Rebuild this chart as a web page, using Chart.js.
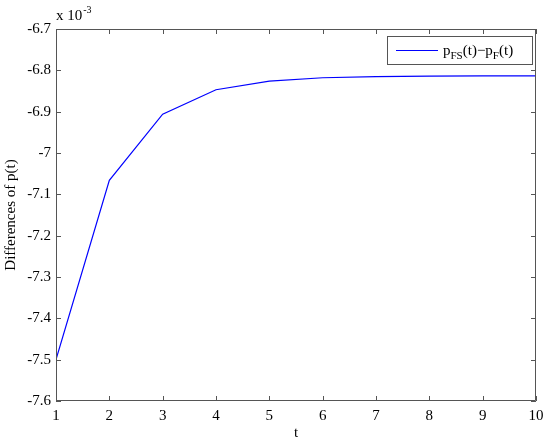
<!DOCTYPE html>
<html>
<head>
<meta charset="utf-8">
<script src="https://cdn.jsdelivr.net/npm/chart.js@4/dist/chart.umd.min.js"></script>
<style>
  html, body { margin: 0; padding: 0; background: #fff; }
  #wrap { width: 550px; height: 444px; }
</style>
</head>
<body>
<div id="wrap"><canvas id="chart" width="550" height="444"></canvas></div>
<script>
// values in units of 1e-3
const tValues = [1, 2, 3, 4, 5, 6, 7, 8, 9, 10];
const diffValues = [-7.5, -7.066, -6.906, -6.847, -6.826, -6.818, -6.815, -6.814, -6.8135, -6.8133];
const yTicks = [-6.7, -6.8, -6.9, -7, -7.1, -7.2, -7.3, -7.4, -7.5, -7.6];
const xTicks = [1, 2, 3, 4, 5, 6, 7, 8, 9, 10];

const axisColor = '#555';
const serif = "'Liberation Serif', 'Times New Roman', serif";

// MATLAB-ish box with inward ticks on all four sides, plus exponent label and legend
const matlabFrame = {
    id: 'matlabFrame',
    afterDraw(chart) {
        const ctx = chart.ctx;
        const a = chart.chartArea;
        const xs = chart.scales.x;
        const ys = chart.scales.y;
        ctx.save();
        ctx.strokeStyle = axisColor;
        ctx.lineWidth = 1;
        ctx.beginPath();
        ctx.rect(a.left + 0.5, a.top + 0.5, a.right - a.left - 1, a.bottom - a.top - 1);
        ctx.stroke();

        const len = 5;
        ctx.beginPath();
        xTicks.forEach(v => {
            const px = Math.round(xs.getPixelForValue(v)) + 0.5;
            ctx.moveTo(px, a.bottom);
            ctx.lineTo(px, a.bottom - len);
            ctx.moveTo(px, a.top);
            ctx.lineTo(px, a.top + len);
        });
        yTicks.forEach(v => {
            const py = Math.round(ys.getPixelForValue(v)) + 0.5;
            ctx.moveTo(a.left, py);
            ctx.lineTo(a.left + len, py);
            ctx.moveTo(a.right, py);
            ctx.lineTo(a.right - len, py);
        });
        ctx.stroke();

        // exponent label
        ctx.fillStyle = '#000';
        ctx.textBaseline = 'alphabetic';
        ctx.textAlign = 'left';
        ctx.font = '15px ' + serif;
        ctx.fillText('x 10', a.left, a.top - 9);
        const w = ctx.measureText('x 10').width;
        ctx.font = '10px ' + serif;
        ctx.fillText('-3', a.left + w + 1, a.top - 16);

        // legend
        const lx = 387, ly = 36, lw = 145, lh = 28;
        ctx.fillStyle = '#fff';
        ctx.fillRect(lx, ly, lw, lh);
        ctx.strokeStyle = axisColor;
        ctx.strokeRect(lx + 0.5, ly + 0.5, lw, lh);
        ctx.strokeStyle = 'rgb(0,0,255)';
        ctx.beginPath();
        ctx.moveTo(396, 50.5);
        ctx.lineTo(438, 50.5);
        ctx.stroke();

        const parts = [
            { t: 'p', sub: false },
            { t: 'FS', sub: true },
            { t: '(t)\u2212p', sub: false },
            { t: 'F', sub: true },
            { t: '(t)', sub: false }
        ];
        let cx = 443;
        ctx.fillStyle = '#000';
        parts.forEach(p => {
            ctx.font = (p.sub ? '11px ' : '15px ') + serif;
            ctx.fillText(p.t, cx, p.sub ? 59 : 55);
            cx += ctx.measureText(p.t).width;
        });
        ctx.restore();
    }
};

new Chart(document.getElementById('chart'), {
    type: 'line',
    data: {
        datasets: [{
            label: 'pFS(t)-pF(t)',
            data: tValues.map((t, i) => ({ x: t, y: diffValues[i] })),
            borderColor: 'rgb(0, 0, 255)',
            borderWidth: 1.2,
            pointRadius: 0,
            tension: 0,
            fill: false
        }]
    },
    options: {
        responsive: false,
        animation: false,
        layout: { padding: { top: 29, right: 14, left: 0, bottom: 0 } },
        plugins: {
            legend: { display: false },
            tooltip: { enabled: false }
        },
        scales: {
            x: {
                type: 'linear',
                min: 1,
                max: 10,
                afterFit(s) { s.height = 43; },
                afterBuildTicks(s) { s.ticks = xTicks.map(v => ({ value: v })); },
                grid: { display: false, drawTicks: false },
                border: { display: false },
                ticks: {
                    color: '#000',
                    padding: 6,
                    maxRotation: 0,
                    font: { family: serif, size: 15 }
                },
                title: {
                    display: true,
                    text: 't',
                    color: '#000',
                    padding: { top: 0, bottom: 2 },
                    font: { family: serif, size: 15 }
                }
            },
            y: {
                min: -7.6,
                max: -6.7,
                afterFit(s) { s.width = 56; },
                afterBuildTicks(s) { s.ticks = yTicks.map(v => ({ value: v })); },
                grid: { display: false, drawTicks: false },
                border: { display: false },
                ticks: {
                    color: '#000',
                    padding: 5,
                    font: { family: serif, size: 15 },
                    callback: v => String(Number(v.toFixed(1)))
                },
                title: {
                    display: true,
                    text: 'Differences of p(t)',
                    color: '#000',
                    padding: { top: 2, bottom: 0 },
                    font: { family: serif, size: 15 }
                }
            }
        }
    },
    plugins: [matlabFrame]
});
</script>
</body>
</html>
